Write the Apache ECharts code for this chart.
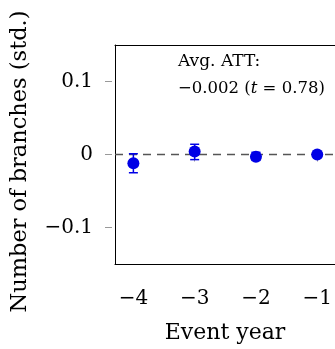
<!DOCTYPE html>
<html>
<head>
<meta charset="utf-8">
<script src="https://cdn.jsdelivr.net/npm/echarts@6/dist/echarts.min.js"></script>
<style>
  html, body { margin: 0; padding: 0; background: #fff; }
  #grafico { width: 335px; height: 349px; }
</style>
</head>
<body>
<div id="grafico"></div>
<script>
// Datos del gráfico
const eventYears = [-4, -3, -2, -1];
const estimates = [-0.012, 0.004, -0.003, 0.0];
const ciLow = [-0.025, -0.007, -0.008, -0.002];
const ciHigh = [0.001, 0.014, 0.003, 0.002];
const xTicks = [-4, -3, -2, -1];
const yTicks = [-0.1, 0, 0.1];

const fuente = 'DejaVu Serif';
const azul = '#0000e6';

function menos(v) {
    if (v === 0) return '0';
    return (v < 0 ? '\u2212' : '') + String(Math.abs(v));
}

// eje solo con la linea del marco
function marco(pos) {
    return {
        type: 'value', position: pos, min: -4.3, max: -0.71,
        axisLine: { show: true, onZero: false, lineStyle: { color: '#000', width: 1 } },
        axisTick: { show: false }, axisLabel: { show: false }, splitLine: { show: false }
    };
}

const chart = echarts.init(document.getElementById('grafico'));

chart.setOption({
    animation: false,
    grid: { left: 115, top: 45, width: 220, height: 221 },
    xAxis: [
        {
            type: 'value', min: -4.3, max: -0.71, offset: 3, position: 'bottom',
            name: 'Event year', nameLocation: 'middle', nameGap: 55,
            nameTextStyle: { fontFamily: fuente, fontSize: 22, color: '#000' },
            axisLine: { show: false },
            splitLine: { show: false },
            axisTick: { show: true, length: 7, customValues: xTicks, lineStyle: { color: '#999' } },
            axisLabel: { customValues: xTicks, margin: 22, formatter: menos,
                fontFamily: fuente, fontSize: 20, color: '#000' }
        },
        marco('bottom'),
        marco('top')
    ],
    yAxis: [
        {
            type: 'value', min: -0.15, max: 0.15, offset: 3, position: 'left',
            name: 'Number of branches (std.)', nameLocation: 'middle', nameGap: 80, nameRotate: 90,
            nameTextStyle: { fontFamily: fuente, fontSize: 22.5, color: '#000', padding: [0, 14, 0, 0] },
            axisLine: { show: false },
            splitLine: { show: false },
            axisTick: { show: true, length: 7, customValues: yTicks, lineStyle: { color: '#999' } },
            axisLabel: { customValues: yTicks, margin: 19, formatter: menos,
                fontFamily: fuente, fontSize: 20, color: '#000' }
        },
        {
            type: 'value', min: -0.15, max: 0.15, position: 'left',
            axisLine: { show: true, onZero: false, lineStyle: { color: '#000', width: 1 } },
            axisTick: { show: false }, axisLabel: { show: false }, splitLine: { show: false }
        }
    ],
    graphic: [
        {
            type: 'text', left: 178, top: 53,
            style: { text: 'Avg. ATT:', font: '17px "DejaVu Serif"', fill: '#000' }
        },
        {
            type: 'text', left: 178, top: 80,
            style: {
                text: '{n|\u22120.002 (}{i|t}{n| = 0.78)}',
                rich: {
                    n: { fontFamily: fuente, fontSize: 16.5, color: '#000' },
                    i: { fontFamily: fuente, fontSize: 16.5, fontStyle: 'italic', color: '#000' }
                }
            }
        }
    ],
    series: [
        {
            type: 'custom',
            z: 3,
            data: eventYears.map((x, i) => [x, ciLow[i], ciHigh[i]]),
            renderItem: function (params, api) {
                const x = api.value(0);
                const p1 = api.coord([x, api.value(1)]);
                const p2 = api.coord([x, api.value(2)]);
                const w = 4.5;
                const estilo = { stroke: azul, lineWidth: 1.5 };
                return {
                    type: 'group',
                    children: [
                        { type: 'line', shape: { x1: p1[0], y1: p1[1], x2: p2[0], y2: p2[1] }, style: estilo },
                        { type: 'line', shape: { x1: p1[0] - w, y1: p1[1], x2: p1[0] + w, y2: p1[1] }, style: estilo },
                        { type: 'line', shape: { x1: p2[0] - w, y1: p2[1], x2: p2[0] + w, y2: p2[1] }, style: estilo }
                    ]
                };
            }
        },
        {
            type: 'scatter',
            z: 4,
            symbol: 'circle',
            symbolSize: 12,
            itemStyle: { color: azul, opacity: 1 },
            data: eventYears.map((x, i) => [x, estimates[i]]),
            markLine: {
                silent: true,
                symbol: 'none',
                z: 1,
                label: { show: false },
                lineStyle: { color: '#555', width: 1.3, type: [8, 6] },
                data: [{ yAxis: 0 }]
            }
        }
    ]
});
</script>
</body>
</html>
